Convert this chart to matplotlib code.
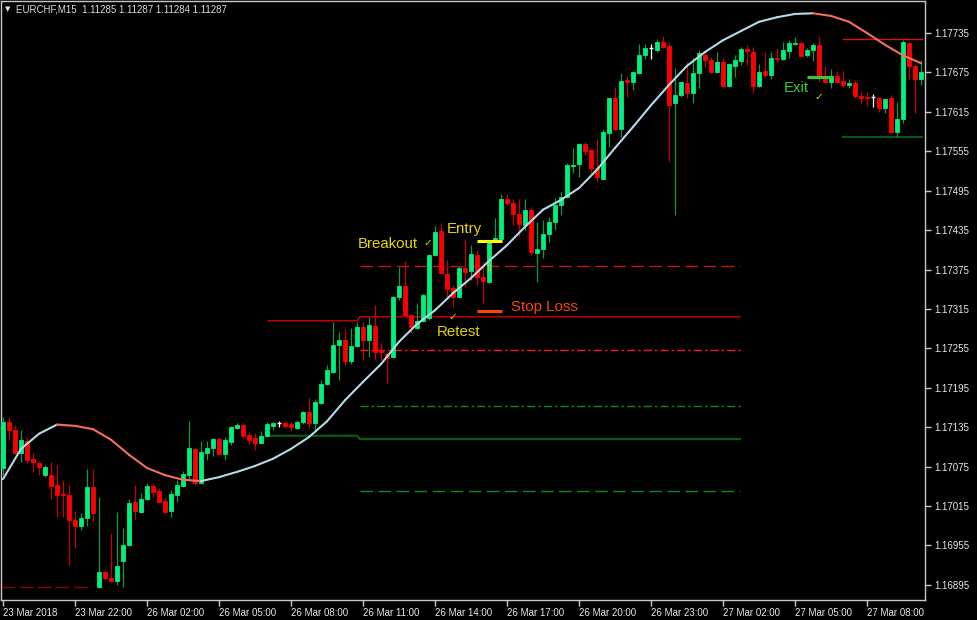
import matplotlib
matplotlib.use("Agg")
import matplotlib.pyplot as plt
from matplotlib.collections import LineCollection
import numpy as np

plt.rcParams['lines.scale_dashes'] = False

# ---------------- data (EURCHF M15) ----------------
opens = [1.17073, 1.17143, 1.17131, 1.17096, 1.17114, 1.17087, 1.17080, 1.17062, 1.17062, 1.17047,
         1.17033, 1.17032, 1.16994, 1.16985, 1.16997, 1.17044, 1.16892, 1.16915, 1.16906, 1.16901,
         1.16931, 1.16956, 1.17021, 1.17006, 1.17026, 1.17046, 1.17038, 1.17023, 1.17008, 1.17032,
         1.17046, 1.17062, 1.17102, 1.17050, 1.17096, 1.17103, 1.17117, 1.17094, 1.17112, 1.17134,
         1.17138, 1.17123, 1.17119, 1.17111, 1.17122, 1.17137, 1.17141, 1.17141, 1.17140, 1.17134,
         1.17143, 1.17158, 1.17141, 1.17172, 1.17201, 1.17219, 1.17260, 1.17268, 1.17236, 1.17259,
         1.17288, 1.17268, 1.17289, 1.17252, 1.17246, 1.17242, 1.17333, 1.17350, 1.17306, 1.17286,
         1.17297, 1.17301, 1.17397, 1.17434, 1.17368, 1.17347, 1.17333, 1.17377, 1.17373, 1.17397,
         1.17364, 1.17356, 1.17418, 1.17421, 1.17482, 1.17476, 1.17460, 1.17443, 1.17466, 1.17400,
         1.17406, 1.17429, 1.17447, 1.17473, 1.17485, 1.17533, 1.17536, 1.17566, 1.17557, 1.17530,
         1.17513, 1.17583, 1.17636, 1.17589, 1.17663, 1.17660, 1.17674, 1.17701, 1.17712, 1.17709,
         1.17721, 1.17715, 1.17628, 1.17641, 1.17659, 1.17644, 1.17674, 1.17701, 1.17694, 1.17676,
         1.17691, 1.17654, 1.17685, 1.17692, 1.17711, 1.17706, 1.17654, 1.17677, 1.17671, 1.17697,
         1.17695, 1.17708, 1.17718, 1.17720, 1.17701, 1.17709, 1.17717, 1.17668, 1.17660, 1.17670,
         1.17662, 1.17656, 1.17659, 1.17639, 1.17638, 1.17638, 1.17636, 1.17621, 1.17636, 1.17584,
         1.17604, 1.17720, 1.17685, 1.17665]
highs = [1.17150, 1.17150, 1.17138, 1.17131, 1.17120, 1.17096, 1.17084, 1.17077, 1.17082, 1.17077,
         1.17055, 1.17047, 1.17008, 1.17004, 1.17071, 1.17071, 1.17029, 1.16916, 1.16974, 1.17006,
         1.16982, 1.17026, 1.17047, 1.17035, 1.17050, 1.17050, 1.17043, 1.17029, 1.17039, 1.17055,
         1.17068, 1.17144, 1.17103, 1.17114, 1.17114, 1.17119, 1.17120, 1.17120, 1.17137, 1.17141,
         1.17140, 1.17128, 1.17126, 1.17129, 1.17143, 1.17143, 1.17144, 1.17144, 1.17143, 1.17146,
         1.17160, 1.17179, 1.17178, 1.17207, 1.17230, 1.17295, 1.17280, 1.17284, 1.17286, 1.17295,
         1.17295, 1.17303, 1.17321, 1.17263, 1.17250, 1.17335, 1.17379, 1.17388, 1.17307, 1.17324,
         1.17338, 1.17398, 1.17441, 1.17446, 1.17390, 1.17351, 1.17380, 1.17421, 1.17412, 1.17405,
         1.17386, 1.17418, 1.17453, 1.17490, 1.17490, 1.17482, 1.17482, 1.17482, 1.17470, 1.17447,
         1.17450, 1.17455, 1.17484, 1.17493, 1.17537, 1.17560, 1.17568, 1.17569, 1.17558, 1.17574,
         1.17589, 1.17638, 1.17653, 1.17674, 1.17670, 1.17677, 1.17718, 1.17718, 1.17718, 1.17726,
         1.17730, 1.17721, 1.17682, 1.17662, 1.17691, 1.17697, 1.17709, 1.17708, 1.17698, 1.17706,
         1.17697, 1.17689, 1.17701, 1.17714, 1.17717, 1.17714, 1.17688, 1.17706, 1.17706, 1.17712,
         1.17721, 1.17724, 1.17729, 1.17721, 1.17712, 1.17720, 1.17729, 1.17685, 1.17680, 1.17677,
         1.17677, 1.17665, 1.17663, 1.17647, 1.17645, 1.17642, 1.17638, 1.17635, 1.17641, 1.17630,
         1.17724, 1.17721, 1.17686, 1.17694]
lows = [1.17062, 1.17115, 1.17094, 1.17082, 1.17080, 1.17067, 1.17062, 1.17059, 1.17026, 1.16998,
        1.16998, 1.16925, 1.16951, 1.16979, 1.16985, 1.16991, 1.16890, 1.16902, 1.16899, 1.16895,
        1.16892, 1.16954, 1.16995, 1.17004, 1.17024, 1.17029, 1.17020, 1.17004, 1.16998, 1.17021,
        1.17044, 1.17055, 1.17047, 1.17049, 1.17085, 1.17091, 1.17093, 1.17085, 1.17108, 1.17132,
        1.17120, 1.17108, 1.17100, 1.17109, 1.17120, 1.17131, 1.17135, 1.17134, 1.17129, 1.17132,
        1.17140, 1.17134, 1.17128, 1.17170, 1.17199, 1.17218, 1.17207, 1.17230, 1.17231, 1.17257,
        1.17237, 1.17242, 1.17237, 1.17237, 1.17202, 1.17240, 1.17329, 1.17304, 1.17278, 1.17284,
        1.17295, 1.17298, 1.17396, 1.17368, 1.17333, 1.17318, 1.17332, 1.17348, 1.17359, 1.17351,
        1.17324, 1.17355, 1.17417, 1.17420, 1.17473, 1.17443, 1.17424, 1.17435, 1.17397, 1.17356,
        1.17392, 1.17417, 1.17435, 1.17458, 1.17484, 1.17522, 1.17516, 1.17549, 1.17522, 1.17508,
        1.17511, 1.17561, 1.17587, 1.17577, 1.17638, 1.17648, 1.17673, 1.17695, 1.17695, 1.17706,
        1.17712, 1.17540, 1.17458, 1.17638, 1.17636, 1.17628, 1.17651, 1.17683, 1.17674, 1.17674,
        1.17653, 1.17653, 1.17668, 1.17686, 1.17686, 1.17644, 1.17653, 1.17668, 1.17665, 1.17691,
        1.17694, 1.17697, 1.17717, 1.17698, 1.17698, 1.17692, 1.17660, 1.17659, 1.17651, 1.17659,
        1.17653, 1.17651, 1.17636, 1.17627, 1.17624, 1.17622, 1.17615, 1.17613, 1.17582, 1.17577,
        1.17598, 1.17663, 1.17613, 1.17656]
closes = [1.17143, 1.17131, 1.17096, 1.17115, 1.17085, 1.17082, 1.17074, 1.17074, 1.17046, 1.17032,
          1.17032, 1.16994, 1.16985, 1.16997, 1.17044, 1.17004, 1.16915, 1.16906, 1.16901, 1.16924,
          1.16956, 1.17020, 1.17008, 1.17026, 1.17046, 1.17036, 1.17021, 1.17006, 1.17033, 1.17047,
          1.17064, 1.17103, 1.17050, 1.17097, 1.17103, 1.17117, 1.17094, 1.17115, 1.17135, 1.17138,
          1.17122, 1.17115, 1.17111, 1.17122, 1.17140, 1.17141, 1.17141, 1.17137, 1.17135, 1.17143,
          1.17158, 1.17141, 1.17173, 1.17201, 1.17222, 1.17260, 1.17268, 1.17236, 1.17259, 1.17288,
          1.17268, 1.17291, 1.17250, 1.17250, 1.17240, 1.17333, 1.17350, 1.17306, 1.17288, 1.17297,
          1.17336, 1.17397, 1.17432, 1.17370, 1.17345, 1.17333, 1.17377, 1.17371, 1.17399, 1.17364,
          1.17358, 1.17417, 1.17423, 1.17482, 1.17476, 1.17460, 1.17444, 1.17466, 1.17402, 1.17406,
          1.17429, 1.17447, 1.17473, 1.17485, 1.17534, 1.17534, 1.17566, 1.17555, 1.17530, 1.17516,
          1.17584, 1.17636, 1.17589, 1.17662, 1.17660, 1.17676, 1.17701, 1.17712, 1.17712, 1.17721,
          1.17714, 1.17625, 1.17641, 1.17660, 1.17644, 1.17674, 1.17704, 1.17694, 1.17676, 1.17691,
          1.17654, 1.17688, 1.17694, 1.17711, 1.17708, 1.17654, 1.17676, 1.17671, 1.17697, 1.17695,
          1.17709, 1.17720, 1.17720, 1.17700, 1.17709, 1.17717, 1.17668, 1.17660, 1.17670, 1.17660,
          1.17656, 1.17659, 1.17639, 1.17636, 1.17636, 1.17638, 1.17621, 1.17634, 1.17584, 1.17604,
          1.17721, 1.17685, 1.17665, 1.17676]

# moving average read every 3 bars
ma_bars = list(range(0, 154, 3))
ma_values = [1.17056, 1.17102, 1.17125, 1.17139, 1.17137, 1.17132, 1.17116, 1.17093, 1.17073, 1.17062,
             1.17055, 1.17053, 1.17059, 1.17067, 1.17076, 1.17087, 1.17102, 1.17120, 1.17144, 1.17176,
             1.17204, 1.17231, 1.17265, 1.17292, 1.17313, 1.17339, 1.17362, 1.17388, 1.17412, 1.17440,
             1.17466, 1.17481, 1.17499, 1.17527, 1.17560, 1.17592, 1.17625, 1.17656, 1.17685, 1.17706,
             1.17724, 1.17738, 1.17752, 1.17759, 1.17764, 1.17765, 1.17761, 1.17752, 1.17735, 1.17717,
             1.17701, 1.17689]

# axis labels
ytick_values = [1.16895, 1.16955, 1.17015, 1.17075, 1.17135, 1.17195, 1.17255, 1.17315,
                1.17375, 1.17435, 1.17495, 1.17555, 1.17615, 1.17675, 1.17735]
xtick_bars = [0, 12, 24, 36, 48, 60, 72, 84, 96, 108, 120, 132, 144]
xtick_labels = ["23 Mar 2018", "23 Mar 22:00", "26 Mar 02:00", "26 Mar 05:00", "26 Mar 08:00",
                "26 Mar 11:00", "26 Mar 14:00", "26 Mar 17:00", "26 Mar 20:00", "26 Mar 23:00",
                "27 Mar 02:00", "27 Mar 05:00", "27 Mar 08:00"]

# levels of the breakout box
box_start, box_step0, box_step1, box_end = 44.17, 59.0, 59.5, 122.83
box_high = [1.17297, 1.17303]
box_low = [1.17122, 1.17117]
high_dashdot, high_dashed = 1.17252, 1.17380
low_dashdot, low_dashed = 1.17167, 1.17038
prev_low_level, prev_low_end = 1.16892, 14.17
exit_box_start, exit_box_end = 140.0, 153.17
exit_box_high, exit_box_low = 1.17726, 1.17577
entry_price, stop_price, trade_bar0, trade_bar1 = 1.17418, 1.17312, 79.0, 83.17
exit_price, exit_bar0, exit_bar1 = 1.17668, 134.0, 138.17

# ---------------- figure ----------------
BG = "black"
fig = plt.figure(figsize=(9.77, 6.2), dpi=100, facecolor=BG)
ax = fig.add_axes([1 / 977, 20 / 620, 924 / 977, 599 / 620])
ax.set_facecolor(BG)
ax.set_xlim(-0.333, 153.667)
ax.set_ylim(1.16872, 1.177837)

# level lines
ax.plot([-0.333, prev_low_end], [prev_low_level] * 2, color="#8b0000", lw=1,
        linestyle=(0, (10, 3)), zorder=1)
ax.plot([box_start, box_step0, box_step1, box_end],
        [box_high[0], box_high[0], box_high[1], box_high[1]], color="#d00000", lw=1, zorder=1)
ax.plot([box_start, box_step0, box_step1, box_end],
        [box_low[0], box_low[0], box_low[1], box_low[1]], color="#0b5a14", lw=1.6, zorder=1)
ax.plot([box_step1, box_end], [high_dashdot] * 2, color="#ff1a1a", lw=1,
        linestyle=(0, (5.8, 2.2, 1.8, 2.2)), zorder=1)
ax.plot([box_step1, box_end], [high_dashed] * 2, color="#c81414", lw=1,
        linestyle=(0, (9, 4)), zorder=1)
ax.plot([box_step1, box_end], [low_dashdot] * 2, color="#0f8a1e", lw=1,
        linestyle=(0, (5.8, 2.2, 1.8, 2.2)), zorder=1)
ax.plot([box_step1, box_end], [low_dashed] * 2, color="#0f8a1e", lw=1,
        linestyle=(0, (9, 4)), zorder=1)
ax.plot([exit_box_start, exit_box_end], [exit_box_high] * 2, color="#e01010", lw=1, zorder=1)
ax.plot([exit_box_start, exit_box_end], [exit_box_low] * 2, color="#0b5a14", lw=1.4, zorder=1)

# candles
bull_body, bull_wick = "#00f07c", "#0c9a48"
bear_body, bear_wick = "#ff0000", "#c80000"
doji_col = "#ffffff"
for i, (o, h, l, c) in enumerate(zip(opens, highs, lows, closes)):
    if c > o:
        bc, wc = bull_body, bull_wick
    elif c < o:
        bc, wc = bear_body, bear_wick
    else:
        bc = wc = doji_col
    ax.vlines(i, l, h, color=wc, lw=0.9, zorder=3)
    if c != o:
        ax.bar(i, abs(c - o), bottom=min(o, c), width=0.6, color=bc, edgecolor=bc,
               linewidth=0.6, zorder=4)
    else:
        ax.hlines(o, i - 0.3, i + 0.3, color=bc, lw=1.0, zorder=4)

# moving average, coloured by direction
pts = np.column_stack([ma_bars, ma_values])
segs = [pts[k:k + 2] for k in range(len(pts) - 1)]
cols = ["#b4dbea" if ma_values[k + 1] >= ma_values[k] else "#f4705c" for k in range(len(pts) - 1)]
ax.add_collection(LineCollection(segs, colors=cols, linewidths=1.5, zorder=5, capstyle="round"))

# trade lines
ax.plot([trade_bar0, trade_bar1], [entry_price] * 2, color="#ffff00", lw=2.2, zorder=6,
        solid_capstyle="butt")
ax.plot([trade_bar0, trade_bar1], [stop_price] * 2, color="#ff4500", lw=2.2, zorder=6,
        solid_capstyle="butt")
ax.plot([exit_bar0, exit_bar1], [exit_price] * 2, color="#32cd32", lw=2.2, zorder=6,
        solid_capstyle="butt")

# annotations
fam = ["Liberation Sans", "DejaVu Sans"]
yel = "#e8d400"
ax.text(59.17, 1.17414, "Breakout", color=yel, fontsize=10.8, family=fam, va="center", ha="left", zorder=7)
ax.text(74.0, 1.17437, "Entry", color=yel, fontsize=10.8, family=fam, va="center", ha="left", zorder=7)
ax.text(72.33, 1.17280, "Retest", color=yel, fontsize=10.8, family=fam, va="center", ha="left", zorder=7)
ax.text(84.67, 1.17318, "Stop Loss", color="#ff4500", fontsize=10.8, family=fam, va="center", ha="left", zorder=7)
ax.text(130.17, 1.17651, "Exit", color="#32cd32", fontsize=10.8, family=fam, va="center", ha="left", zorder=7)
for bx, py in [(70.8, 1.17415), (75.0, 1.17303), (136.0, 1.17638)]:
    ax.text(bx, py, "\u2713", color=yel, fontsize=7.5, family=["DejaVu Sans"], va="center", ha="center", zorder=7)
ax.text(81.0, 1.17377, "\u21e7", color=yel, fontsize=8, family=["DejaVu Sans"], va="center", ha="center", zorder=7)

# header
fig.text(5 / 977, 1 - 9 / 620, "\u25bc", color="#e0e0e0", fontsize=5, family=["DejaVu Sans"], va="center", ha="left")
fig.text(16 / 977, 1 - 9 / 620, "EURCHF,M15  1.11285 1.11287 1.11284 1.11287", color="#dcdcdc",
         fontsize=7, family=fam, va="center", ha="left")

# axes styling
frame_col = "#c8c8c8"
for s in ax.spines.values():
    s.set_color(frame_col)
    s.set_linewidth(1)
ax.yaxis.tick_right()
ax.set_yticks(ytick_values)
ax.set_yticklabels([f"{v:.5f}" for v in ytick_values], family=fam)
ax.set_xticks(xtick_bars)
ax.set_xticklabels(xtick_labels, ha="left", family=fam)
ax.tick_params(axis="y", colors=frame_col, labelcolor="#e8e8e8", length=4, width=1,
               direction="out", labelsize=7, pad=3)
ax.tick_params(axis="x", colors=frame_col, labelcolor="#e8e8e8", length=4, width=1,
               direction="out", labelsize=7, pad=2)

fig.savefig("out.png", dpi=100, facecolor=BG)
